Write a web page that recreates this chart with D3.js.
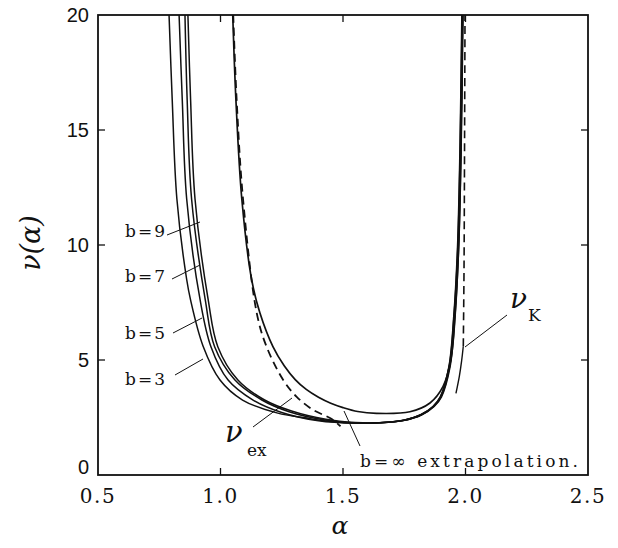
<!doctype html>
<html>
<head>
<meta charset="utf-8">
<style>
body{ margin:0; background:#fff; }
.ytick{ font-family: "Liberation Sans", Arial; font-size:20px; fill:#111; }
.xtick{ font-family: "DejaVu Serif", serif; font-size:20px; fill:#111; letter-spacing:1.5px; }
.lbl{ font-family: "DejaVu Serif", serif; font-size:17px; fill:#111; }
.greek{ font-family: "DejaVu Serif", serif; font-style:italic; fill:#111; }
</style>
<script src="https://d3js.org/d3.v7.min.js"></script>
</head>
<body>
<svg width="618" height="548"></svg>
<script>
// axis ticks
var xTicks = [0.5, 1.0, 1.5, 2.0, 2.5];
var yTicks = [0, 5, 10, 15, 20];

// finite size curves b=3,5,7,9 (alpha, nu)
var rightAlpha = [1.65, 1.75, 1.82, 1.87, 1.90, 1.935, 1.955, 1.97, 1.98, 1.988];
var rightNu    = [2.27, 2.38, 2.62, 2.98, 3.4, 4.7, 6.9, 9.8, 14, 20];

var b3Alpha = [0.790, 0.803, 0.822, 0.862, 0.878, 0.929, 0.998, 1.09, 1.23, 1.365, 1.45, 1.55];
var b3Nu    = [20, 16.3, 12.0, 8.5, 7.6, 5.6, 4.13, 3.26, 2.7, 2.45, 2.33, 2.26];
var b5Alpha = [0.831, 0.844, 0.862, 0.917, 0.961, 1.031, 1.133, 1.25, 1.40, 1.55];
var b5Nu    = [20, 16.3, 12.0, 7.6, 5.58, 4.13, 3.26, 2.72, 2.36, 2.25];
var b7Alpha = [0.855, 0.864, 0.882, 0.938, 0.976, 1.059, 1.169, 1.28, 1.42, 1.55];
var b7Nu    = [20, 16.3, 12.0, 7.6, 5.58, 4.13, 3.26, 2.75, 2.4, 2.26];
var b9Alpha = [0.867, 0.878, 0.896, 0.950, 0.989, 1.071, 1.18, 1.29, 1.43, 1.55];
var b9Nu    = [20, 16.3, 12.0, 7.6, 5.58, 4.13, 3.26, 2.78, 2.42, 2.28];

// b = infinity extrapolation
var extAlpha = [1.050, 1.063, 1.087, 1.127, 1.161, 1.214, 1.26, 1.305, 1.35, 1.40, 1.45, 1.50, 1.56, 1.637, 1.773, 1.855, 1.908, 1.94, 1.958, 1.972, 1.981, 1.988];
var extNu    = [20, 16.3, 12.0, 8.5, 7.04, 5.58, 4.75, 4.15, 3.72, 3.38, 3.12, 2.93, 2.76, 2.68, 2.75, 3.13, 3.84, 5.0, 7.0, 10.0, 14.0, 20];

// nu_ex (dashed)
var exAlpha = [1.052, 1.066, 1.092, 1.148, 1.188, 1.256, 1.311, 1.378, 1.447, 1.47, 1.49];
var exNu    = [20, 16.3, 12.0, 7.04, 5.58, 4.13, 3.4, 2.83, 2.48, 2.3, 2.12];

// nu_K (solid part and dashed continuation)
var kAlpha     = [1.961, 1.975, 1.984, 1.991];
var kNu        = [3.55, 4.3, 4.95, 5.6];
var kDashAlpha = [1.991, 1.994, 1.996, 1.998];
var kDashNu    = [5.6, 9.0, 14.0, 20];

var svg = d3.select("svg");
var pl = 98, pr = 588, pt = 15, pb = 475;

var x = d3.scaleLinear().domain([0.5, 2.5]).range([pl, pr]);
var y = d3.scaleLinear().domain([0, 20]).range([pb, pt]);

svg.append("clipPath").attr("id", "clip")
  .append("rect").attr("x", pl).attr("y", pt)
  .attr("width", pr - pl).attr("height", pb - pt);

function pts(a, n) { return a.map(function(v, i) { return [v, n[i]]; }); }

var line = d3.line()
  .x(function(d) { return x(d[0]); })
  .y(function(d) { return y(d[1]); })
  .curve(d3.curveCatmullRom.alpha(0.5));

var plot = svg.append("g").attr("clip-path", "url(#clip)");

function shift(a, dx) { return a.map(function(v) { return v + dx; }); }

var bCurves = [
  {a: b3Alpha.concat(shift(rightAlpha, 0.002)), n: b3Nu.concat(rightNu)},
  {a: b5Alpha.concat(shift(rightAlpha, 0.0)), n: b5Nu.concat(rightNu)},
  {a: b7Alpha.concat(shift(rightAlpha, -0.002)), n: b7Nu.concat(rightNu)},
  {a: b9Alpha.concat(shift(rightAlpha, -0.003)), n: b9Nu.concat(rightNu)}
];

bCurves.forEach(function(c) {
  plot.append("path")
    .attr("d", line(pts(c.a, c.n)))
    .attr("fill", "none").attr("stroke", "#111").attr("stroke-width", 1.5);
});

plot.append("path")
  .attr("d", line(pts(extAlpha, extNu)))
  .attr("fill", "none").attr("stroke", "#111").attr("stroke-width", 1.7);

plot.append("path")
  .attr("d", line(pts(exAlpha, exNu)))
  .attr("fill", "none").attr("stroke", "#111").attr("stroke-width", 1.8)
  .attr("stroke-dasharray", "8,5");

plot.append("path")
  .attr("d", line(pts(kAlpha, kNu)))
  .attr("fill", "none").attr("stroke", "#111").attr("stroke-width", 1.4);

plot.append("path")
  .attr("d", line(pts(kDashAlpha, kDashNu)))
  .attr("fill", "none").attr("stroke", "#111").attr("stroke-width", 1.6)
  .attr("stroke-dasharray", "8,5");

// frame
svg.append("rect")
  .attr("x", pl).attr("y", pt)
  .attr("width", pr - pl).attr("height", pb - pt)
  .attr("fill", "none").attr("stroke", "#111").attr("stroke-width", 1.8);

// inward ticks on all four sides
var tl = 7;
var xInner = xTicks.slice(1, -1), yInner = yTicks.slice(1, -1);
xInner.forEach(function(t) {
  svg.append("line").attr("x1", x(t)).attr("x2", x(t)).attr("y1", pb).attr("y2", pb - tl)
    .attr("stroke", "#111").attr("stroke-width", 1.3);
  svg.append("line").attr("x1", x(t)).attr("x2", x(t)).attr("y1", pt).attr("y2", pt + tl)
    .attr("stroke", "#111").attr("stroke-width", 1.3);
});
yInner.forEach(function(t) {
  svg.append("line").attr("x1", pl).attr("x2", pl + tl).attr("y1", y(t)).attr("y2", y(t))
    .attr("stroke", "#111").attr("stroke-width", 1.3);
  svg.append("line").attr("x1", pr).attr("x2", pr - tl).attr("y1", y(t)).attr("y2", y(t))
    .attr("stroke", "#111").attr("stroke-width", 1.3);
});

// tick labels
svg.selectAll(".xtick").data(xTicks).enter().append("text")
  .attr("class", "xtick")
  .attr("x", function(d) { return x(d); })
  .attr("y", pb + 28)
  .attr("text-anchor", "middle")
  .text(function(d) { return d.toFixed(1); });

svg.selectAll(".ytick").data(yTicks).enter().append("text")
  .attr("class", "ytick")
  .attr("x", pl - 9)
  .attr("y", function(d) { return y(d) + (d === 0 ? -1 : 7); })
  .attr("text-anchor", "end")
  .text(function(d) { return d; });

// axis titles
svg.append("text").attr("class", "greek")
  .attr("x", 340).attr("y", 534).attr("font-size", 25)
  .attr("text-anchor", "middle").text("α");

svg.append("text").attr("class", "greek")
  .attr("transform", "translate(40,243) rotate(-90)")
  .attr("font-size", 27).attr("text-anchor", "middle").text("ν(α)");

// b labels with leader lines
var bNames = ["b=9", "b=7", "b=5", "b=3"];
var bLabelY = [237, 282, 339, 385];
var bLeaders = [[167, 235, 200, 222], [172, 279, 200, 265], [173, 333, 202, 318], [175, 375, 203, 359]];
bNames.forEach(function(n, i) {
  svg.append("text").attr("class", "lbl")
    .attr("x", 125).attr("y", bLabelY[i])
    .attr("textLength", 40).attr("lengthAdjust", "spacing").text(n);
  var l = bLeaders[i];
  svg.append("line").attr("x1", l[0]).attr("y1", l[1]).attr("x2", l[2]).attr("y2", l[3])
    .attr("stroke", "#111").attr("stroke-width", 1);
});

// nu_ex label
svg.append("text").attr("class", "greek").attr("x", 225).attr("y", 442)
  .attr("font-size", 29).text("ν");
svg.append("text").attr("class", "lbl").attr("x", 247).attr("y", 456)
  .attr("font-size", 19).text("ex");
svg.append("line").attr("x1", 253).attr("y1", 427).attr("x2", 292).attr("y2", 398)
  .attr("stroke", "#111").attr("stroke-width", 1);

// nu_K label
svg.append("text").attr("class", "greek").attr("x", 510).attr("y", 308)
  .attr("font-size", 28).text("ν");
svg.append("text").attr("class", "lbl").attr("x", 528).attr("y", 321)
  .attr("font-size", 16).text("K");
svg.append("line").attr("x1", 465).attr("y1", 347).attr("x2", 507).attr("y2", 315)
  .attr("stroke", "#111").attr("stroke-width", 1);

// extrapolation label
svg.append("text").attr("class", "lbl")
  .attr("x", 360).attr("y", 467).attr("font-size", 19)
  .attr("textLength", 218).attr("lengthAdjust", "spacing")
  .text("b=∞ extrapolation.");
svg.append("line").attr("x1", 344).attr("y1", 411).attr("x2", 360).attr("y2", 446)
  .attr("stroke", "#111").attr("stroke-width", 1);
</script>
</body>
</html>
